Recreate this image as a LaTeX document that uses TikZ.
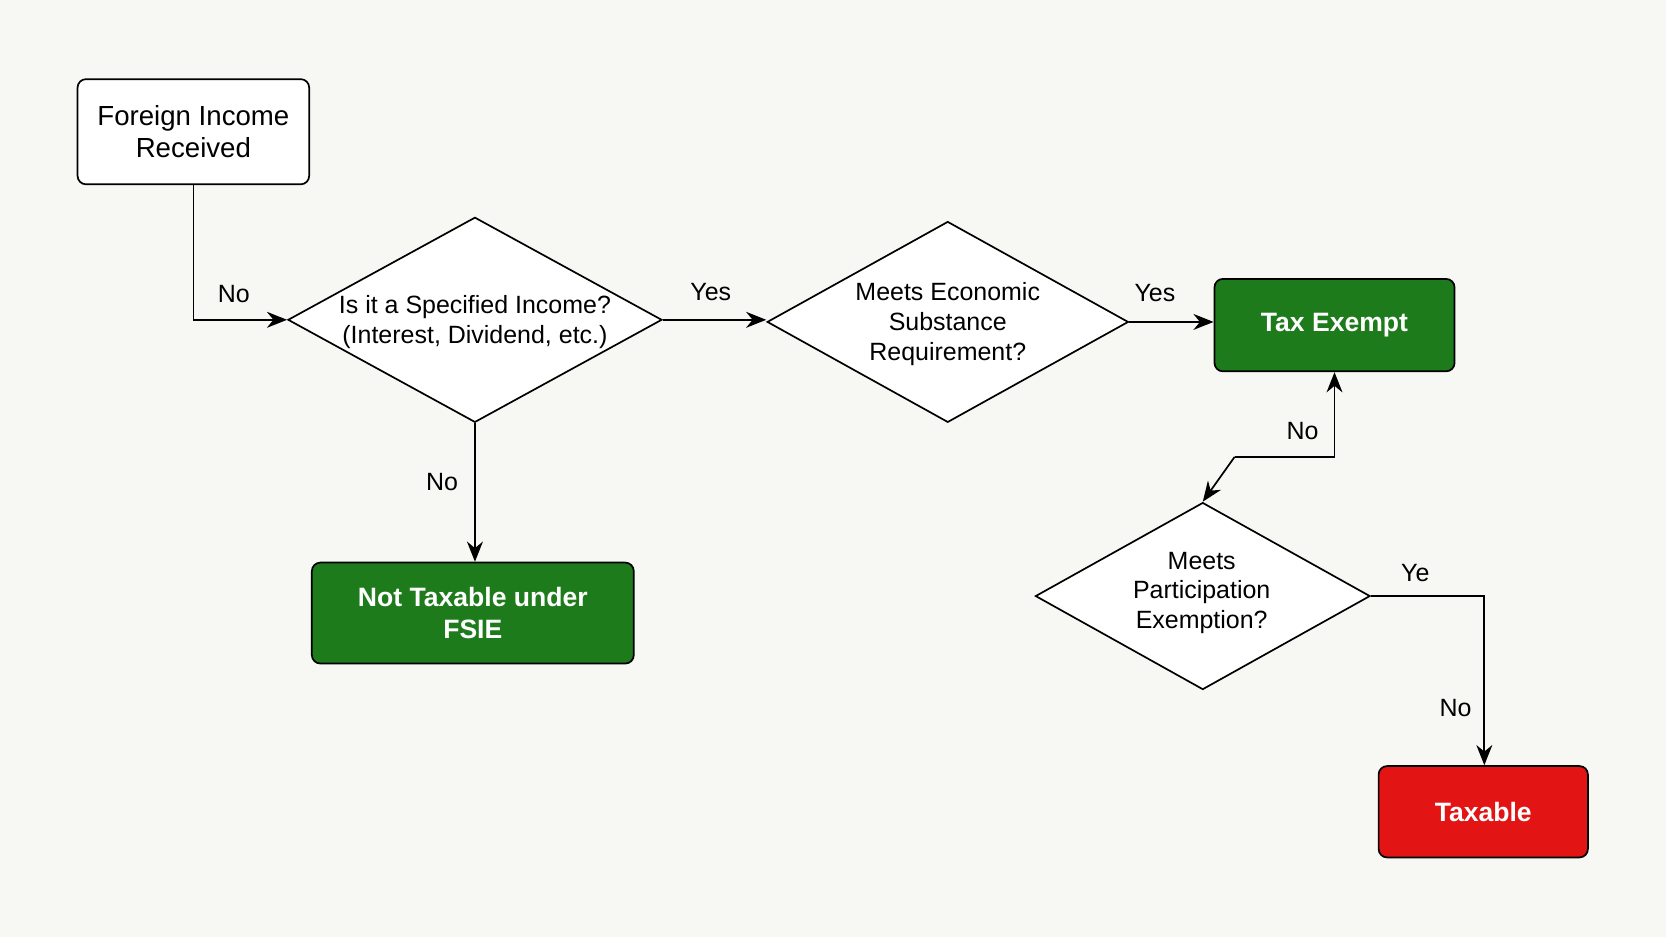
\documentclass[tikz,border=0pt]{standalone}
\usepackage{fontspec}
\setmainfont{Liberation Sans}
\usetikzlibrary{shapes.geometric,arrows.meta}
\definecolor{bg}{HTML}{F7F7F4}
\definecolor{gr}{HTML}{1E7B1C}
\definecolor{rd}{HTML}{E31414}
\begin{document}
\begin{tikzpicture}[x=1pt,y=-1pt,
  box/.style={draw,line width=1.6pt,rounded corners=8pt,align=center,font=\fontsize{26}{30}\selectfont,inner sep=0pt},
  gbox/.style={box,fill=gr,text=white,font=\bfseries\fontsize{25}{30}\selectfont},
  rbox/.style={box,fill=rd,text=white,font=\bfseries\fontsize{25}{30}\selectfont},
  dia/.style={draw,line width=1.6pt,diamond,fill=white,inner sep=0pt},
  arr/.style={line width=1.6pt,-{Stealth[length=19pt,width=15pt]}},
  lab/.style={font=\fontsize{23.5}{28}\selectfont}]
\useasboundingbox[fill=bg] (0,0) rectangle (1568,882);
\node[box,fill=white,minimum width=218pt,minimum height=99pt] (fi) at (182,124) {Foreign Income\\Received};
\node[dia,minimum width=352pt,minimum height=193pt] (d1) at (447,301) {};
\node[lab,align=center] at (447,303) {Is it a Specified Income?\\(Interest, Dividend, etc.)};
\node[dia,minimum width=340pt,minimum height=189pt] (d2) at (892,303) {};
\node[lab,align=center] at (892,305) {Meets Economic\\Substance\\Requirement?};
\node[gbox,minimum width=226pt,minimum height=87pt] (te) at (1256,306) {Tax Exempt};
\node[gbox,minimum width=303pt,minimum height=95pt] (nt) at (445,577) {Not Taxable under\\FSIE};
\node[dia,minimum width=315pt,minimum height=176pt] (d3) at (1132,561) {};
\node[lab,align=center] at (1131,558) {Meets\\Participation\\Exemption?};
\node[rbox,minimum width=197pt,minimum height=86pt] (tx) at (1396,764) {Taxable};
\coordinate (c1) at (182,301);
\coordinate (c2) at (1256,430);
\coordinate (c3) at (1162,430);
\coordinate (c4) at (1397,561);
\draw[arr] (fi.south) -- (c1) -- (d1.west);
\draw[arr] (d1.east) -- (d1.east -| d2.west);
\draw[arr] (d2.east) -- (d2.east -| te.west);
\draw[arr] (d1.south) -- (d1.south |- nt.north);
\draw[arr] (c3) -- (d3.north);
\draw[arr] (c3) -- (c2) -- (te.south);
\draw[arr] (d3.east) -- (c4) -- (c4 |- tx.north);
\node[lab] at (220,277) {No};
\node[lab] at (669,275) {Yes};
\node[lab] at (1087,276) {Yes};
\node[lab] at (416,454) {No};
\node[lab] at (1226,406) {No};
\node[lab] at (1332,539) {Ye};
\node[lab] at (1370,666) {No};
\end{tikzpicture}
\end{document}
